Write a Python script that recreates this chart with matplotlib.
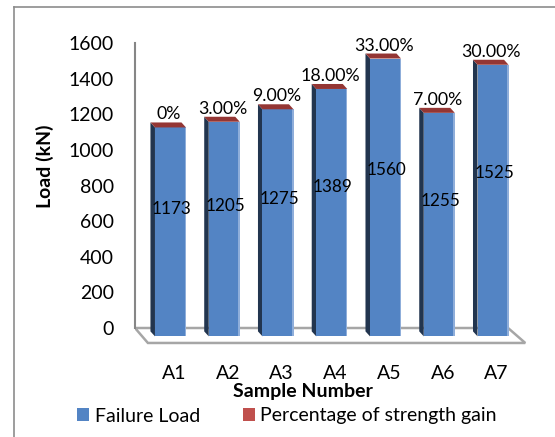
import matplotlib.pyplot as plt
from matplotlib.patches import Polygon, Rectangle, Patch
from matplotlib.lines import Line2D

plt.rcParams['font.family'] = ['Lato', 'DejaVu Sans']

# data
samples = ['A1', 'A2', 'A3', 'A4', 'A5', 'A6', 'A7']
failure_load = [1173, 1205, 1275, 1389, 1560, 1255, 1525]
strength_gain = ['0%', '3.00%', '9.00%', '18.00%', '33.00%', '7.00%', '30.00%']

blue = '#5384C4'
side = '#22354F'
red = '#943634'
grey = '#A6A6A6'

W, H = 555, 437
fig = plt.figure(figsize=(W / 100, H / 100), dpi=100)

# axes placed in pixels so the fake 3d looks like the excel one
px_l, px_r, px_b, px_t = 135, 540, 350, 35
ax = fig.add_axes([px_l / W, 1 - px_b / H, (px_r - px_l) / W, (px_b - px_t) / H])
ax.set_xlim(-0.66, 6.874)
ax.set_ylim(-123.5, 1645)

w = 0.577          # front face width
ddx, ddy = 0.084, 28   # depth offset (back relative to front)
d = 47             # front face sits below the back wall zero

n = len(samples)
# floor
floor = Polygon([(-0.66, 0), (n - 1 + 0.28, 0), (n - 1 + 0.6, -84), (-0.42, -84)],
                closed=True, facecolor='white', edgecolor=grey, lw=1.8, zorder=1)
ax.add_patch(floor)

for i, v in enumerate(failure_load):
    xl, xr = i - w / 2, i + w / 2
    ax.add_patch(Polygon([(xl, -d), (xl, v - d), (xl - ddx, v - d + ddy), (xl - ddx, -d + ddy)],
                         closed=True, facecolor=side, edgecolor='none', zorder=2))
    ax.add_patch(Rectangle((xl, -d), w, v, facecolor=blue, edgecolor='none', zorder=3))
    ax.add_patch(Rectangle((xr - 0.025, -d), 0.025, v, facecolor='#8FAEDA', edgecolor='none', zorder=3))
    ax.add_patch(Polygon([(xl, v - d), (xr, v - d), (xr - ddx, v - d + ddy), (xl - ddx, v - d + ddy)],
                         closed=True, facecolor=red, edgecolor='none', zorder=4))
    ax.text(i + 0.02, v * 0.57, str(v), ha='center', va='center', fontsize=12.3, zorder=5)
    ax.text(i - 0.03, v + 26, strength_gain[i], ha='center', va='center', fontsize=12.8, zorder=5)

for s in ['top', 'right', 'bottom']:
    ax.spines[s].set_visible(False)
ax.spines['left'].set_bounds(0, 1600)
ax.spines['left'].set_color('#868686')
ax.spines['left'].set_linewidth(1.5)
ax.set_yticks(range(0, 1601, 200))
ax.tick_params(axis='y', length=0, pad=15, labelsize=14)
ax.set_xticks([i + 0.065 for i in range(n)])
ax.set_xticklabels(samples)
ax.tick_params(axis='x', length=0, pad=11, labelsize=14)

fig.text(45 / W, 1 - 166 / H, 'Load (kN)', rotation=90, ha='center', va='center',
         fontsize=14, fontweight='bold')
fig.text(303 / W, 1 - 391 / H, 'Sample Number', ha='center', va='center',
         fontsize=14, fontweight='bold')

handles = [Patch(facecolor=blue, label='Failure Load'),
           Patch(facecolor='#C0504D', label='Percentage of strength gain')]
fig.legend(handles=handles, loc='center', bbox_to_anchor=(287 / W, 1 - 416 / H), ncol=2,
           frameon=False, fontsize=14, handlelength=0.62, handleheight=0.62,
           handletextpad=0.28, columnspacing=2.2)

# outer chart border
fig.add_artist(Line2D([13.5 / W, 13.5 / W], [0, 1 - 7 / H], color='#8C8C8C', lw=1.2))
fig.add_artist(Line2D([13.5 / W, 1], [1 - 7 / H, 1 - 7 / H], color='#8C8C8C', lw=1.2))

fig.savefig('out.png', dpi=100)
